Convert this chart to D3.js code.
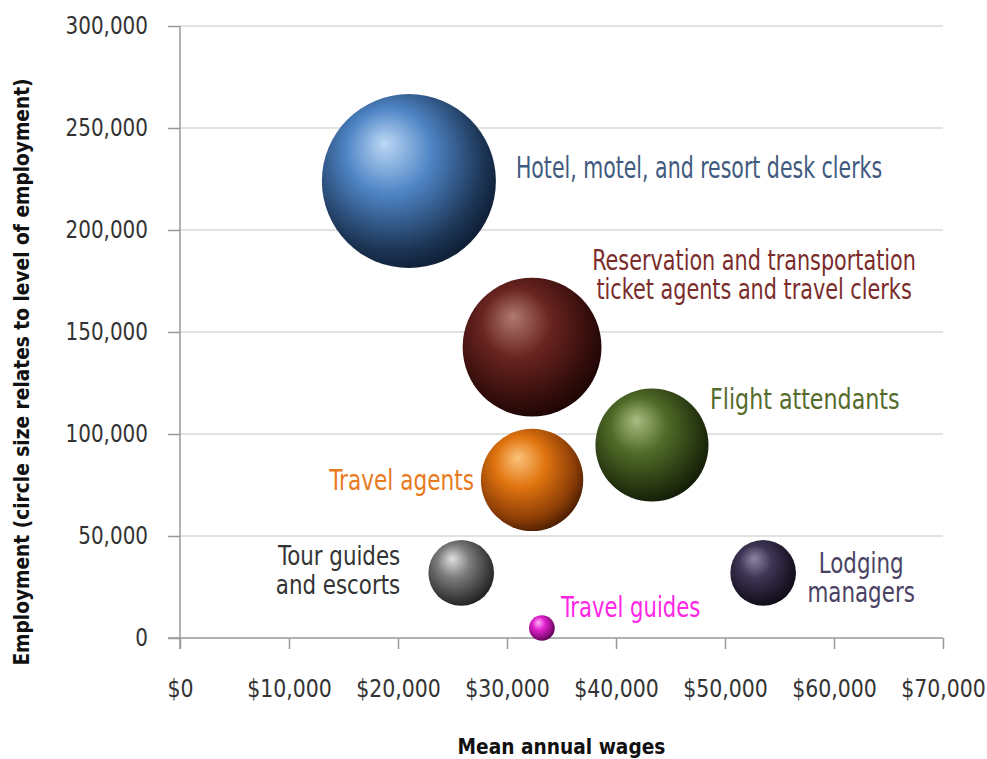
<!DOCTYPE html>
<html>
<head>
<meta charset="utf-8">
<script src="https://cdn.jsdelivr.net/npm/d3@7"></script>
<style>
  html, body { margin: 0; padding: 0; background: #fff; }
  svg { display: block; }
  text { font-family: "DejaVu Sans Condensed", "DejaVu Sans", sans-serif; font-stretch: condensed; }
</style>
</head>
<body>
<svg id="chart" width="987" height="759"></svg>
<script>
// ---------- data ----------
const occupations = [
  "Hotel, motel, and resort desk clerks",
  "Reservation and transportation ticket agents and travel clerks",
  "Flight attendants",
  "Travel agents",
  "Tour guides and escorts",
  "Lodging managers",
  "Travel guides"
];
const labelLines = [
  ["Hotel, motel, and resort desk clerks"],
  ["Reservation and transportation", "ticket agents and travel clerks"],
  ["Flight attendants"],
  ["Travel agents"],
  ["Tour guides", "and escorts"],
  ["Lodging", "managers"],
  ["Travel guides"]
];
const meanWages  = [21000, 32300, 43300, 32300, 25800, 53500, 33200];
const employment = [224000, 142600, 94600, 77500, 31900, 31900, 4900];
const yTicks = [0, 50000, 100000, 150000, 200000, 250000, 300000];
const xTicks = [0, 10000, 20000, 30000, 40000, 50000, 60000, 70000];

// ---------- style / layout ----------
const sphereColors = [
  { hi: "#bcd8f5", base: "#4e84c5", dark: "#1d3657", edge: "#0f1f36" },
  { hi: "#b07a72", base: "#6a2420", dark: "#330d0b", edge: "#1e0605" },
  { hi: "#a9bd82", base: "#506b28", dark: "#25340f", edge: "#141d07" },
  { hi: "#fbc27a", base: "#e0740f", dark: "#8a3c06", edge: "#4e2003" },
  { hi: "#e0e0e0", base: "#7c7c7c", dark: "#3a3a3a", edge: "#222" },
  { hi: "#8d86a3", base: "#3e3554", dark: "#1c1628", edge: "#100c18" },
  { hi: "#ffb0f6", base: "#e022cf", dark: "#8a0c7c", edge: "#55044c" }
];
const labelColors = ["#3f5a7e", "#7a2c2a", "#556b2c", "#e87a1e", "#333333", "#4a4262", "#ff26e6"];
// label placement: offsets from bubble centre, anchor, font size, horizontal condensing
const labelLayout = [
  { dx: 107, dy: -14, anchor: "start",  fs: 30,   sx: 0.76 },
  { dx: 222, dy: -87, anchor: "middle", fs: 27.5, sx: 0.84 },
  { dx: 58,  dy: -47, anchor: "start",  fs: 29,   sx: 0.85 },
  { dx: -58, dy: 0,   anchor: "end",    fs: 28,   sx: 0.86 },
  { dx: -61, dy: -17, anchor: "end",    fs: 27,   sx: 0.88 },
  { dx: 98,  dy: -10, anchor: "middle", fs: 28,   sx: 0.85 },
  { dx: 19,  dy: -21, anchor: "start",  fs: 28,   sx: 0.84 }
];
const lineGap = 29;

const svg = d3.select("#chart");
const margin = { left: 180, right: 44, top: 26, bottom: 121 };
const W = 987, H = 759;

const x = d3.scaleLinear().domain([0, 70000]).range([margin.left, W - margin.right]);
const y = d3.scaleLinear().domain([0, 300000]).range([H - margin.bottom, margin.top]);
const r = d3.scaleSqrt().domain([0, 224000]).range([0, 87]);

// gradients
const defs = svg.append("defs");
sphereColors.forEach((c, i) => {
  const g = defs.append("radialGradient")
    .attr("id", "sph" + i)
    .attr("cx", "0.42").attr("cy", "0.4").attr("r", "0.62")
    .attr("fx", "0.36").attr("fy", "0.28");
  g.append("stop").attr("offset", "0%").attr("stop-color", c.hi);
  g.append("stop").attr("offset", "40%").attr("stop-color", c.base);
  g.append("stop").attr("offset", "83%").attr("stop-color", c.dark);
  g.append("stop").attr("offset", "100%").attr("stop-color", c.edge);
});

// gridlines
svg.append("g")
  .selectAll("line")
  .data(yTicks.filter(d => d > 0))
  .join("line")
  .attr("x1", x(0)).attr("x2", x(70000))
  .attr("y1", d => y(d)).attr("y2", d => y(d))
  .attr("stroke", "#d9d9d9").attr("stroke-width", 1.5);

function condenseTicks(g, sx) {
  g.selectAll(".tick text").each(function () {
    const t = d3.select(this);
    const tx = +t.attr("x") || 0;
    t.attr("x", tx / sx).attr("transform", `scale(${sx},1)`);
  });
}

// y axis
const yAxis = d3.axisLeft(y).tickValues(yTicks).tickSize(12).tickPadding(20)
  .tickFormat(d3.format(","));
const gy = svg.append("g").attr("transform", `translate(${x(0)},0)`).call(yAxis);
gy.select(".domain").remove();
gy.append("line").attr("x1", 0).attr("x2", 0).attr("y1", y(300000)).attr("y2", y(0) + 11)
  .attr("stroke", "#999").attr("stroke-width", 1.5);
gy.selectAll(".tick line").attr("stroke", "#999").attr("stroke-width", 1.5);
gy.selectAll(".tick text").attr("fill", "#333").style("font-size", "24.5px");
condenseTicks(gy, 0.905);

// x axis
const xAxis = d3.axisBottom(x).tickValues(xTicks).tickSize(11).tickPadding(31)
  .tickFormat(d => "$" + d3.format(",")(d));
const gx = svg.append("g").attr("transform", `translate(0,${y(0)})`).call(xAxis);
gx.select(".domain").remove();
gx.append("line").attr("x1", x(0) - 12).attr("x2", x(70000)).attr("y1", 0).attr("y2", 0)
  .attr("stroke", "#999").attr("stroke-width", 1.5);
gx.selectAll(".tick line").attr("stroke", "#999").attr("stroke-width", 1.5);
gx.selectAll(".tick text").attr("fill", "#333").style("font-size", "24.5px");
condenseTicks(gx, 0.93);

// bubbles
const data = occupations.map((name, i) => ({
  name, wage: meanWages[i], emp: employment[i], i
}));
svg.append("g").selectAll("circle")
  .data(data)
  .join("circle")
  .attr("cx", d => x(d.wage))
  .attr("cy", d => y(d.emp))
  .attr("r", d => r(d.emp))
  .attr("fill", d => `url(#sph${d.i})`);

// labels
const lg = svg.append("g");
data.forEach(d => {
  const L = labelLayout[d.i];
  const lines = labelLines[d.i];
  const t = lg.append("text")
    .attr("transform", `translate(${x(d.wage) + L.dx},${y(d.emp) + L.dy}) scale(${L.sx},1)`)
    .attr("text-anchor", L.anchor)
    .attr("dominant-baseline", "central")
    .attr("fill", labelColors[d.i])
    .style("font-size", L.fs + "px");
  lines.forEach((ln, k) => {
    t.append("tspan").attr("x", 0).attr("dy", k === 0 ? 0 : lineGap).text(ln);
  });
});

// axis titles
svg.append("text")
  .attr("transform", `translate(${(x(0) + x(70000)) / 2},746) scale(0.94,1)`)
  .attr("text-anchor", "middle")
  .attr("dominant-baseline", "central")
  .attr("font-weight", "bold")
  .attr("fill", "#111")
  .style("font-size", "22px")
  .text("Mean annual wages");

svg.append("text")
  .attr("transform", `translate(21,372) rotate(-90) scale(0.94,1)`)
  .attr("text-anchor", "middle")
  .attr("dominant-baseline", "central")
  .attr("font-weight", "bold")
  .attr("fill", "#111")
  .style("font-size", "22px")
  .text("Employment (circle size relates to level of employment)");
</script>
</body>
</html>
